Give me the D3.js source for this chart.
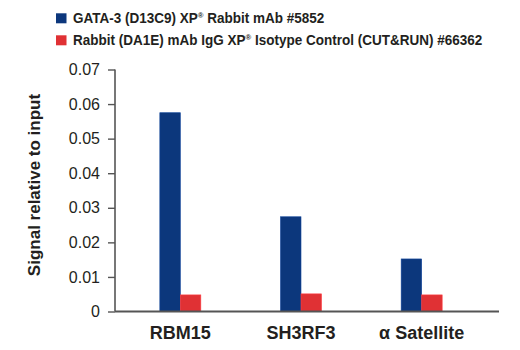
<!DOCTYPE html>
<html><head><meta charset="utf-8">
<script src="https://cdn.jsdelivr.net/npm/d3@7"></script>
<style>
body{margin:0;background:#fff;}
svg text{font-family:"Liberation Sans",Arial,sans-serif;font-weight:bold;fill:#231f20;}
</style></head>
<body><svg id="c" width="520" height="350"></svg>
<script>
const categories = ["RBM15","SH3RF3","α Satellite"];
const seriesNames = ["GATA-3 (D13C9) XP® Rabbit mAb #5852","Rabbit (DA1E) mAb IgG XP® Isotype Control (CUT&RUN) #66362"];
const gataValues = [0.0575, 0.0274, 0.0152];
const iggValues = [0.0048, 0.0051, 0.0048];
const yTicks = [0,0.01,0.02,0.03,0.04,0.05,0.06,0.07];
const colors = ["#0c377c","#e03134"];

const svg = d3.select("#c");
const y = d3.scaleLinear().domain([0,0.07]).range([311.5,69.5]);
const x0 = d3.scaleBand().domain(categories).range([120,482]);
const x1 = d3.scaleBand().domain([0,1]).range([-20.5,20.5]);

const series = [gataValues, iggValues];
const g = svg.append("g");
categories.forEach((c,i)=>{
  series.forEach((vals,s)=>{
    g.append("rect")
      .attr("x", x0(c)+x0.bandwidth()/2 + x1(s))
      .attr("width", x1.bandwidth())
      .attr("y", y(vals[i]))
      .attr("height", y(0)-y(vals[i]))
      .attr("fill", colors[s])
      .attr("stroke", d3.color(colors[s]).brighter(0.6))
      .attr("stroke-width", 0.6);
  });
});

// y axis
const ya = svg.append("g").attr("transform","translate(115,0)")
  .call(d3.axisLeft(y).tickValues(yTicks).tickSize(7).tickPadding(8)
    .tickFormat(d=> d===0 ? "0" : d3.format(".2f")(d)));
ya.select(".domain").attr("stroke","#555").attr("stroke-width",1.6).attr("d","M0,"+y(0.07)+"V"+y(0));
ya.selectAll(".tick line").attr("stroke","#555").attr("stroke-width",1.4);
ya.selectAll(".tick text").attr("font-size",16).attr("fill","#231f20").style("font-weight","normal");

// x axis
const xa = svg.append("g").attr("transform","translate(0,"+y(0)+")")
  .call(d3.axisBottom(x0).tickSize(0).tickPadding(15));
xa.select(".domain").attr("stroke","#555").attr("stroke-width",2).attr("d","M115,0H499");
xa.selectAll(".tick text").attr("font-size",18).attr("fill","#231f20");

// y label
svg.append("text").attr("transform","translate(39.5,185) rotate(-90)")
  .attr("text-anchor","middle").attr("font-size",17).text("Signal relative to input");

// legend
const leg = svg.append("g");
seriesNames.forEach((n,i)=>{
  leg.append("rect").attr("x",56).attr("y",13.3+i*22).attr("width",10.5).attr("height",10).attr("fill",colors[i]);
  const t = leg.append("text").attr("x",0).attr("y",0).attr("font-size",14)
    .attr("transform","translate(73,"+(23.3+i*22)+") scale(0.965,1)");
  const parts = n.split("®");
  t.append("tspan").text(parts[0]);
  t.append("tspan").attr("font-size",8).attr("dy",-5.5).text("®");
  t.append("tspan").attr("dy",5.5).text(parts[1]);
});
</script></body></html>
